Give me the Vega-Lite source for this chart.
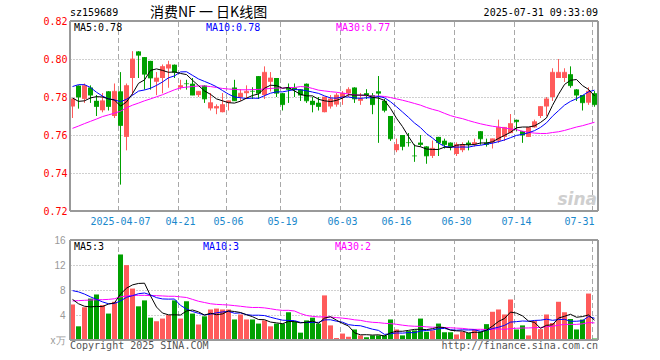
{
"$schema": "https://vega.github.io/schema/vega-lite/v6.json",
"width": 528, "height": 319,
"autosize": {"type": "none"},
"padding": {"left": 70, "top": 21, "right": 62, "bottom": 20},
"background": "#ffffff",
"config": {"view": {"stroke": null}},
"data": {"values": [
{"d":"2025-03-25","o":0.775,"c":0.779,"h":0.779,"l":0.769,"v":5.65,"m5":0.7795,"m10":0.7855,"m30":0.7635,"vm5":6.5,"vm10":7.9,"vm30":6.25},
{"d":"2025-03-26","o":0.786,"c":0.780,"h":0.786,"l":0.774,"v":2.15,"m5":0.7777,"m10":0.7865,"m30":0.7647,"vm5":5.8,"vm10":7.7,"vm30":6.3},
{"d":"2025-03-27","o":0.779,"c":0.786,"h":0.787,"l":0.777,"v":5.2,"m5":0.778,"m10":0.7865,"m30":0.766,"vm5":5.4,"vm10":7.35,"vm30":6.35},
{"d":"2025-03-28","o":0.785,"c":0.781,"h":0.786,"l":0.777,"v":6.6,"m5":0.7795,"m10":0.785,"m30":0.7672,"vm5":5.3,"vm10":6.9,"vm30":6.4},
{"d":"2025-03-31","o":0.778,"c":0.775,"h":0.781,"l":0.770,"v":7.25,"m5":0.7802,"m10":0.7825,"m30":0.7684,"vm5":5.37,"vm10":6.5,"vm30":6.45},
{"d":"2025-04-01","o":0.773,"c":0.778,"h":0.782,"l":0.772,"v":5.55,"m5":0.780,"m10":0.7805,"m30":0.7697,"vm5":5.35,"vm10":6.1,"vm30":6.45},
{"d":"2025-04-02","o":0.783,"c":0.775,"h":0.783,"l":0.773,"v":4.2,"m5":0.779,"m10":0.779,"m30":0.7706,"vm5":5.76,"vm10":5.8,"vm30":6.5},
{"d":"2025-04-03","o":0.770,"c":0.783,"h":0.787,"l":0.769,"v":6.1,"m5":0.7784,"m10":0.7785,"m30":0.7715,"vm5":5.94,"vm10":5.85,"vm30":6.6},
{"d":"2025-04-07","o":0.783,"c":0.765,"h":0.793,"l":0.734,"v":13.65,"m5":0.7752,"m10":0.7775,"m30":0.7725,"vm5":7.35,"vm10":6.25,"vm30":6.9},
{"d":"2025-04-08","o":0.759,"c":0.786,"h":0.787,"l":0.752,"v":11.95,"m5":0.7774,"m10":0.7788,"m30":0.7743,"vm5":8.29,"vm10":6.83,"vm30":7.05},
{"d":"2025-04-09","o":0.790,"c":0.800,"h":0.804,"l":0.781,"v":8.2,"m5":0.7818,"m10":0.7809,"m30":0.7757,"vm5":8.82,"vm10":7.09,"vm30":7.15},
{"d":"2025-04-10","o":0.804,"c":0.802,"h":0.804,"l":0.790,"v":5.35,"m5":0.7872,"m10":0.7831,"m30":0.7768,"vm5":9.05,"vm10":7.41,"vm30":7.15},
{"d":"2025-04-11","o":0.801,"c":0.792,"h":0.801,"l":0.784,"v":6.3,"m5":0.789,"m10":0.7837,"m30":0.778,"vm5":9.09,"vm10":7.52,"vm30":7.15},
{"d":"2025-04-14","o":0.799,"c":0.790,"h":0.799,"l":0.784,"v":3.55,"m5":0.794,"m10":0.7846,"m30":0.779,"vm5":7.07,"vm10":7.21,"vm30":7.1},
{"d":"2025-04-15","o":0.788,"c":0.790,"h":0.793,"l":0.781,"v":2.95,"m5":0.7948,"m10":0.7861,"m30":0.7801,"vm5":5.27,"vm10":6.78,"vm30":7.1},
{"d":"2025-04-16","o":0.790,"c":0.796,"h":0.797,"l":0.782,"v":3.4,"m5":0.794,"m10":0.7879,"m30":0.7812,"vm5":4.31,"vm10":6.57,"vm30":7.05},
{"d":"2025-04-17","o":0.795,"c":0.797,"h":0.799,"l":0.785,"v":3.95,"m5":0.793,"m10":0.7901,"m30":0.7825,"vm5":4.03,"vm10":6.54,"vm30":7.0},
{"d":"2025-04-18","o":0.797,"c":0.793,"h":0.797,"l":0.790,"v":6.3,"m5":0.7932,"m10":0.7911,"m30":0.7838,"vm5":4.03,"vm10":6.56,"vm30":7.0},
{"d":"2025-04-21","o":0.785,"c":0.786,"h":0.789,"l":0.784,"v":3.4,"m5":0.7924,"m10":0.7932,"m30":0.7848,"vm5":4.0,"vm10":5.54,"vm30":6.9},
{"d":"2025-04-22","o":0.787,"c":0.787,"h":0.789,"l":0.784,"v":6.15,"m5":0.7918,"m10":0.7933,"m30":0.7852,"vm5":4.64,"vm10":4.96,"vm30":6.8},
{"d":"2025-04-23","o":0.787,"c":0.781,"h":0.790,"l":0.781,"v":4.2,"m5":0.7888,"m10":0.7914,"m30":0.7855,"vm5":4.8,"vm10":4.56,"vm30":6.5},
{"d":"2025-04-24","o":0.781,"c":0.783,"h":0.783,"l":0.780,"v":2.45,"m5":0.786,"m10":0.7895,"m30":0.7858,"vm5":4.5,"vm10":4.27,"vm30":6.2},
{"d":"2025-04-25","o":0.786,"c":0.779,"h":0.786,"l":0.777,"v":3.75,"m5":0.7832,"m10":0.7882,"m30":0.7858,"vm5":3.99,"vm10":4.01,"vm30":6.0},
{"d":"2025-04-28","o":0.774,"c":0.777,"h":0.782,"l":0.773,"v":4.85,"m5":0.7814,"m10":0.7869,"m30":0.7855,"vm5":4.28,"vm10":4.14,"vm30":5.8},
{"d":"2025-04-29","o":0.774,"c":0.775,"h":0.776,"l":0.771,"v":5.0,"m5":0.779,"m10":0.7854,"m30":0.785,"vm5":4.05,"vm10":4.35,"vm30":5.7},
{"d":"2025-04-30","o":0.772,"c":0.776,"h":0.782,"l":0.772,"v":4.85,"m5":0.778,"m10":0.7834,"m30":0.7845,"vm5":4.18,"vm10":4.49,"vm30":5.65},
{"d":"2025-05-06","o":0.777,"c":0.778,"h":0.778,"l":0.773,"v":4.85,"m5":0.777,"m10":0.7815,"m30":0.7842,"vm5":4.66,"vm10":4.58,"vm30":5.6},
{"d":"2025-05-07","o":0.785,"c":0.778,"h":0.789,"l":0.778,"v":3.25,"m5":0.7768,"m10":0.780,"m30":0.784,"vm5":4.56,"vm10":4.28,"vm30":5.5},
{"d":"2025-05-08","o":0.780,"c":0.782,"h":0.784,"l":0.778,"v":4.05,"m5":0.7778,"m10":0.7796,"m30":0.7838,"vm5":4.4,"vm10":4.34,"vm30":5.4},
{"d":"2025-05-09","o":0.782,"c":0.783,"h":0.786,"l":0.779,"v":3.25,"m5":0.7794,"m10":0.7792,"m30":0.7838,"vm5":4.05,"vm10":4.05,"vm30":5.28},
{"d":"2025-05-12","o":0.783,"c":0.783,"h":0.785,"l":0.779,"v":3.25,"m5":0.7808,"m10":0.7794,"m30":0.7839,"vm5":3.73,"vm10":3.96,"vm30":5.2},
{"d":"2025-05-13","o":0.791,"c":0.782,"h":0.791,"l":0.779,"v":2.6,"m5":0.7816,"m10":0.7793,"m30":0.784,"vm5":3.28,"vm10":3.97,"vm30":5.21},
{"d":"2025-05-14","o":0.781,"c":0.793,"h":0.796,"l":0.779,"v":3.1,"m5":0.7846,"m10":0.7807,"m30":0.7842,"vm5":3.25,"vm10":3.91,"vm30":5.14},
{"d":"2025-05-15","o":0.788,"c":0.790,"h":0.793,"l":0.783,"v":2.15,"m5":0.7862,"m10":0.782,"m30":0.7845,"vm5":2.87,"vm10":3.64,"vm30":5.0},
{"d":"2025-05-16","o":0.790,"c":0.782,"h":0.790,"l":0.780,"v":2.6,"m5":0.786,"m10":0.7827,"m30":0.7847,"vm5":2.74,"vm10":3.4,"vm30":4.84},
{"d":"2025-05-19","o":0.782,"c":0.776,"h":0.782,"l":0.773,"v":2.6,"m5":0.7846,"m10":0.7827,"m30":0.7847,"vm5":2.61,"vm10":3.17,"vm30":4.74},
{"d":"2025-05-20","o":0.785,"c":0.784,"h":0.787,"l":0.777,"v":4.4,"m5":0.785,"m10":0.7833,"m30":0.785,"vm5":2.97,"vm10":3.13,"vm30":4.75},
{"d":"2025-05-21","o":0.785,"c":0.784,"h":0.787,"l":0.780,"v":2.95,"m5":0.7832,"m10":0.7839,"m30":0.785,"vm5":2.94,"vm10":3.1,"vm30":4.64},
{"d":"2025-05-22","o":0.784,"c":0.781,"h":0.784,"l":0.778,"v":1.15,"m5":0.7814,"m10":0.7838,"m30":0.7855,"vm5":2.74,"vm10":2.81,"vm30":4.23},
{"d":"2025-05-23","o":0.787,"c":0.778,"h":0.787,"l":0.777,"v":3.1,"m5":0.7806,"m10":0.7833,"m30":0.7853,"vm5":2.84,"vm10":2.79,"vm30":3.93},
{"d":"2025-05-26","o":0.778,"c":0.776,"h":0.780,"l":0.772,"v":3.55,"m5":0.7806,"m10":0.7826,"m30":0.7845,"vm5":3.03,"vm10":2.82,"vm30":3.78},
{"d":"2025-05-27","o":0.777,"c":0.775,"h":0.780,"l":0.773,"v":2.6,"m5":0.7788,"m10":0.7819,"m30":0.7836,"vm5":2.67,"vm10":2.82,"vm30":3.69},
{"d":"2025-05-28","o":0.772,"c":0.780,"h":0.780,"l":0.772,"v":7.1,"m5":0.778,"m10":0.7806,"m30":0.7832,"vm5":3.5,"vm10":3.22,"vm30":3.71},
{"d":"2025-05-29","o":0.775,"c":0.779,"h":0.781,"l":0.774,"v":2.3,"m5":0.7776,"m10":0.7795,"m30":0.7828,"vm5":3.73,"vm10":3.24,"vm30":3.67},
{"d":"2025-05-30","o":0.776,"c":0.781,"h":0.782,"l":0.775,"v":0.3,"m5":0.7782,"m10":0.7794,"m30":0.7825,"vm5":3.17,"vm10":3.01,"vm30":3.58},
{"d":"2025-06-03","o":0.780,"c":0.782,"h":0.783,"l":0.776,"v":1.0,"m5":0.7794,"m10":0.780,"m30":0.782,"vm5":2.66,"vm10":2.85,"vm30":3.5},
{"d":"2025-06-04","o":0.782,"c":0.784,"h":0.785,"l":0.780,"v":0.5,"m5":0.7812,"m10":0.780,"m30":0.7816,"vm5":2.24,"vm10":2.46,"vm30":3.39},
{"d":"2025-06-05","o":0.785,"c":0.779,"h":0.785,"l":0.777,"v":1.65,"m5":0.781,"m10":0.7795,"m30":0.7811,"vm5":1.15,"vm10":2.33,"vm30":3.23},
{"d":"2025-06-06","o":0.778,"c":0.779,"h":0.782,"l":0.776,"v":0.7,"m5":0.781,"m10":0.7793,"m30":0.7809,"vm5":0.83,"vm10":2.28,"vm30":3.14},
{"d":"2025-06-09","o":0.782,"c":0.781,"h":0.784,"l":0.779,"v":0.4,"m5":0.781,"m10":0.7796,"m30":0.7807,"vm5":0.85,"vm10":2.01,"vm30":2.95},
{"d":"2025-06-10","o":0.781,"c":0.776,"h":0.782,"l":0.771,"v":0.7,"m5":0.7798,"m10":0.7796,"m30":0.7805,"vm5":0.79,"vm10":1.73,"vm30":2.83},
{"d":"2025-06-11","o":0.783,"c":0.782,"h":0.791,"l":0.756,"v":0.7,"m5":0.7794,"m10":0.7803,"m30":0.7805,"vm5":0.83,"vm10":1.54,"vm30":2.78},
{"d":"2025-06-12","o":0.778,"c":0.773,"h":0.779,"l":0.772,"v":0.7,"m5":0.7782,"m10":0.7796,"m30":0.7803,"vm5":0.64,"vm10":0.9,"vm30":2.67},
{"d":"2025-06-13","o":0.770,"c":0.758,"h":0.770,"l":0.757,"v":3.25,"m5":0.774,"m10":0.7775,"m30":0.7797,"vm5":1.15,"vm10":0.99,"vm30":2.62},
{"d":"2025-06-16","o":0.752,"c":0.755,"h":0.758,"l":0.751,"v":1.65,"m5":0.7688,"m10":0.7749,"m30":0.779,"vm5":1.4,"vm10":1.13,"vm30":2.51},
{"d":"2025-06-17","o":0.760,"c":0.754,"h":0.760,"l":0.752,"v":0.7,"m5":0.7644,"m10":0.7721,"m30":0.7783,"vm5":1.4,"vm10":1.1,"vm30":2.37},
{"d":"2025-06-18","o":0.756,"c":0.756,"h":0.761,"l":0.754,"v":1.4,"m5":0.7592,"m10":0.7693,"m30":0.7775,"vm5":1.54,"vm10":1.19,"vm30":2.26},
{"d":"2025-06-19","o":0.749,"c":0.749,"h":0.755,"l":0.746,"v":1.5,"m5":0.7544,"m10":0.7663,"m30":0.7766,"vm5":1.7,"vm10":1.17,"vm30":2.2},
{"d":"2025-06-20","o":0.756,"c":0.755,"h":0.760,"l":0.754,"v":3.4,"m5":0.7538,"m10":0.7639,"m30":0.7757,"vm5":1.73,"vm10":1.44,"vm30":2.18},
{"d":"2025-06-23","o":0.754,"c":0.749,"h":0.754,"l":0.745,"v":1.3,"m5":0.7526,"m10":0.7607,"m30":0.7745,"vm5":1.66,"vm10":1.53,"vm30":2.11},
{"d":"2025-06-24","o":0.749,"c":0.753,"h":0.757,"l":0.748,"v":1.5,"m5":0.7524,"m10":0.7584,"m30":0.7735,"vm5":1.82,"vm10":1.61,"vm30":2.05},
{"d":"2025-06-25","o":0.759,"c":0.756,"h":0.759,"l":0.749,"v":2.6,"m5":0.7524,"m10":0.7558,"m30":0.7727,"vm5":2.06,"vm10":1.8,"vm30":2.05},
{"d":"2025-06-26","o":0.757,"c":0.755,"h":0.758,"l":0.753,"v":1.2,"m5":0.7536,"m10":0.754,"m30":0.7714,"vm5":2.0,"vm10":1.85,"vm30":1.99},
{"d":"2025-06-27","o":0.756,"c":0.754,"h":0.756,"l":0.752,"v":1.2,"m5":0.7534,"m10":0.7536,"m30":0.7702,"vm5":1.56,"vm10":1.65,"vm30":1.96},
{"d":"2025-06-30","o":0.750,"c":0.755,"h":0.756,"l":0.749,"v":0.85,"m5":0.7546,"m10":0.7536,"m30":0.7693,"vm5":1.47,"vm10":1.57,"vm30":1.9},
{"d":"2025-07-01","o":0.752,"c":0.755,"h":0.756,"l":0.751,"v":1.3,"m5":0.755,"m10":0.7537,"m30":0.7686,"vm5":1.43,"vm10":1.63,"vm30":1.86},
{"d":"2025-07-02","o":0.756,"c":0.755,"h":0.757,"l":0.752,"v":1.1,"m5":0.7548,"m10":0.7536,"m30":0.7676,"vm5":1.13,"vm10":1.6,"vm30":1.75},
{"d":"2025-07-03","o":0.755,"c":0.756,"h":0.758,"l":0.754,"v":1.7,"m5":0.755,"m10":0.7543,"m30":0.7667,"vm5":1.23,"vm10":1.62,"vm30":1.7},
{"d":"2025-07-04","o":0.762,"c":0.758,"h":0.762,"l":0.755,"v":1.3,"m5":0.7558,"m10":0.7546,"m30":0.7659,"vm5":1.25,"vm10":1.41,"vm30":1.71},
{"d":"2025-07-07","o":0.756,"c":0.755,"h":0.758,"l":0.754,"v":2.5,"m5":0.7558,"m10":0.7552,"m30":0.7652,"vm5":1.58,"vm10":1.53,"vm30":1.69},
{"d":"2025-07-08","o":0.756,"c":0.758,"h":0.758,"l":0.753,"v":4.5,"m5":0.7564,"m10":0.7557,"m30":0.7646,"vm5":2.22,"vm10":1.83,"vm30":1.72},
{"d":"2025-07-09","o":0.757,"c":0.764,"h":0.768,"l":0.756,"v":4.85,"m5":0.7582,"m10":0.7565,"m30":0.7642,"vm5":2.97,"vm10":2.05,"vm30":1.8},
{"d":"2025-07-10","o":0.759,"c":0.764,"h":0.764,"l":0.757,"v":4.05,"m5":0.7598,"m10":0.7574,"m30":0.7637,"vm5":3.44,"vm10":2.34,"vm30":1.69},
{"d":"2025-07-11","o":0.761,"c":0.766,"h":0.771,"l":0.761,"v":6.45,"m5":0.7614,"m10":0.7586,"m30":0.7632,"vm5":4.47,"vm10":2.86,"vm30":1.83},
{"d":"2025-07-14","o":0.768,"c":0.767,"h":0.768,"l":0.762,"v":1.65,"m5":0.7638,"m10":0.7598,"m30":0.7628,"vm5":4.3,"vm10":2.94,"vm30":1.88},
{"d":"2025-07-15","o":0.762,"c":0.760,"h":0.762,"l":0.756,"v":2.3,"m5":0.7642,"m10":0.7603,"m30":0.762,"vm5":3.86,"vm10":3.04,"vm30":1.92},
{"d":"2025-07-16","o":0.759,"c":0.764,"h":0.764,"l":0.759,"v":0.7,"m5":0.7642,"m10":0.7612,"m30":0.7614,"vm5":3.03,"vm10":3.0,"vm30":1.93},
{"d":"2025-07-17","o":0.764,"c":0.767,"h":0.768,"l":0.764,"v":3.0,"m5":0.7648,"m10":0.7623,"m30":0.761,"vm5":2.82,"vm10":3.13,"vm30":1.97},
{"d":"2025-07-18","o":0.770,"c":0.775,"h":0.775,"l":0.769,"v":1.7,"m5":0.7666,"m10":0.764,"m30":0.7608,"vm5":1.87,"vm10":3.17,"vm30":2.0},
{"d":"2025-07-21","o":0.775,"c":0.779,"h":0.780,"l":0.770,"v":4.05,"m5":0.769,"m10":0.7664,"m30":0.7608,"vm5":2.35,"vm10":3.33,"vm30":2.13},
{"d":"2025-07-22","o":0.780,"c":0.793,"h":0.795,"l":0.778,"v":2.7,"m5":0.7756,"m10":0.7699,"m30":0.7613,"vm5":2.43,"vm10":3.15,"vm30":2.19},
{"d":"2025-07-23","o":0.790,"c":0.793,"h":0.800,"l":0.790,"v":6.1,"m5":0.7814,"m10":0.7728,"m30":0.7617,"vm5":3.51,"vm10":3.27,"vm30":2.37},
{"d":"2025-07-24","o":0.790,"c":0.793,"h":0.795,"l":0.788,"v":4.4,"m5":0.7866,"m10":0.7757,"m30":0.7624,"vm5":3.79,"vm10":3.31,"vm30":2.5},
{"d":"2025-07-25","o":0.792,"c":0.786,"h":0.796,"l":0.785,"v":3.35,"m5":0.7888,"m10":0.7777,"m30":0.7633,"vm5":4.12,"vm10":3.0,"vm30":2.5},
{"d":"2025-07-28","o":0.784,"c":0.781,"h":0.784,"l":0.778,"v":1.65,"m5":0.7892,"m10":0.7791,"m30":0.7642,"vm5":3.64,"vm10":3.0,"vm30":2.5},
{"d":"2025-07-29","o":0.781,"c":0.777,"h":0.781,"l":0.773,"v":3.25,"m5":0.786,"m10":0.7808,"m30":0.7649,"vm5":3.75,"vm10":3.09,"vm30":2.59},
{"d":"2025-07-30","o":0.777,"c":0.783,"h":0.785,"l":0.776,"v":7.4,"m5":0.784,"m10":0.7827,"m30":0.7658,"vm5":4.01,"vm10":3.76,"vm30":2.79},
{"d":"2025-07-31","o":0.782,"c":0.776,"h":0.783,"l":0.775,"v":0.2,"m5":0.7806,"m10":0.7836,"m30":0.7667,"vm5":3.17,"vm10":3.48,"vm30":2.74}
]},
"resolve": {"scale": {"y": "independent"}, "axis": {"y": "independent"}},
"layer": [
{
"layer": [
{"mark": {"type": "rule", "strokeWidth": 1},
 "encoding": {
  "x": {"field": "d", "type": "ordinal",
   "scale": {"type": "band", "paddingInner": 0.1667, "paddingOuter": 0.0833, "align": 0},
   "axis": {"orient": "bottom", "offset": -129, "title": null, "ticks": false, "domain": false, "grid": false,
    "values": ["2025-04-07","2025-04-21","2025-05-06","2025-05-19","2025-06-03","2025-06-16","2025-06-30","2025-07-14","2025-07-31"],
    "labelExpr": "datum.value == '2025-04-07' ? datum.value : slice(datum.value, 5)",
    "labelAngle": 0, "labelColor": "#1a88cc", "labelFont": "DejaVu Sans Mono", "labelFontSize": 10, "labelPadding": 5,
    "labelOverlap": false, "labelBound": false, "labelFlush": false, "bandPosition": 0.1,
    "labelAlign": {"condition": {"test": "datum.value == '2025-07-31'", "value": "right"}, "value": "center"}}},
  "y": {"field": "l", "type": "quantitative",
   "scale": {"domain": [0.72, 0.82], "range": [190, 0], "nice": false, "zero": false},
   "axis": {"orient": "left", "title": null, "values": [0.72, 0.74, 0.76, 0.78, 0.8, 0.82], "format": ".2f",
    "ticks": false, "domain": false, "grid": true, "gridColor": "#a0a0a0", "gridDash": [1, 2], "gridWidth": 1,
    "labelColor": "#ff0000", "labelFont": "DejaVu Sans Mono", "labelFontSize": 10, "labelPadding": 3,
    "labelFlush": false, "labelOverlap": false, "labelBound": false}},
  "y2": {"field": "h"},
  "color": {"condition": {"test": "datum.c > datum.o", "value": "#ff5b5b"}, "value": "#00a000"}}},
{"transform": [{"filter": {"field": "d", "oneOf": ["2025-04-07","2025-04-21","2025-05-06","2025-05-19","2025-06-03","2025-06-16","2025-06-30","2025-07-14","2025-07-31"]}}],
 "mark": {"type": "rule", "color": "#a8a8a8", "strokeDash": [5, 3], "strokeWidth": 1},
 "encoding": {"x": {"field": "d", "type": "ordinal", "bandPosition": 0.1},
  "y": {"datum": 0.72, "type": "quantitative"}, "y2": {"datum": 0.82}}},
{"mark": {"type": "rule", "strokeWidth": 1},
 "encoding": {"x": {"field": "d", "type": "ordinal"},
  "y": {"field": "l", "type": "quantitative"}, "y2": {"field": "h"},
  "color": {"condition": {"test": "datum.c > datum.o", "value": "#ff5b5b"}, "value": "#00a000"}}},
{"mark": {"type": "bar"},
 "encoding": {"x": {"field": "d", "type": "ordinal"},
  "y": {"field": "o", "type": "quantitative"}, "y2": {"field": "c"},
  "color": {"condition": {"test": "datum.c > datum.o", "value": "#ff5b5b"}, "value": "#00a000"}}},
{"mark": {"type": "tick", "thickness": 1, "size": 5},
 "encoding": {"x": {"field": "d", "type": "ordinal"},
  "y": {"field": "c", "type": "quantitative"},
  "color": {"condition": {"test": "datum.c > datum.o", "value": "#ff5b5b"}, "value": "#00a000"}}},
{"mark": {"type": "line", "color": "#ff00ff", "strokeWidth": 1},
 "encoding": {"x": {"field": "d", "type": "ordinal"}, "y": {"field": "m30", "type": "quantitative"}}},
{"mark": {"type": "line", "color": "#0000ff", "strokeWidth": 1},
 "encoding": {"x": {"field": "d", "type": "ordinal"}, "y": {"field": "m10", "type": "quantitative"}}},
{"mark": {"type": "line", "color": "#000000", "strokeWidth": 1},
 "encoding": {"x": {"field": "d", "type": "ordinal"}, "y": {"field": "m5", "type": "quantitative"}}},
{"mark": {"type": "rule", "color": "#999999", "strokeWidth": 2},
 "encoding": {"y": {"datum": 0.82, "type": "quantitative"}}},
{"mark": {"type": "rule", "color": "#999999", "strokeWidth": 2},
 "encoding": {"y": {"datum": 0.72, "type": "quantitative"}}},
{"transform": [{"filter": "datum.d == '2025-03-25'"}],
 "mark": {"type": "rule", "color": "#999999", "strokeWidth": 2},
 "encoding": {"x": {"field": "d", "type": "ordinal", "bandPosition": 0},
  "y": {"datum": 0.72, "type": "quantitative"}, "y2": {"datum": 0.82}}},
{"transform": [{"filter": "datum.d == '2025-07-31'"}],
 "mark": {"type": "rule", "color": "#999999", "strokeWidth": 2},
 "encoding": {"x": {"field": "d", "type": "ordinal", "bandPosition": 1.2},
  "y": {"datum": 0.72, "type": "quantitative"}, "y2": {"datum": 0.82}}},
{"transform": [{"filter": "datum.d == '2025-07-31'"}],
 "mark": {"type": "text", "text": "sina", "align": "right", "baseline": "middle", "dx": -1, "font": "DejaVu Sans", "fontSize": 17, "fontStyle": "italic", "fontWeight": "bold", "color": "#cfcfcf"},
 "encoding": {"x": {"field": "d", "type": "ordinal", "bandPosition": 1.2},
  "y": {"datum": 0.7258, "type": "quantitative"}}},
{"transform": [{"filter": "datum.d == '2025-03-25'"}],
 "mark": {"type": "text", "text": "MA5:0.78", "align": "left", "baseline": "top", "dx": 4, "dy": 2, "font": "DejaVu Sans Mono", "fontSize": 10, "color": "#000000"},
 "encoding": {"x": {"field": "d", "type": "ordinal", "bandPosition": 0},
  "y": {"datum": 0.82, "type": "quantitative"}}},
{"transform": [{"filter": "datum.d == '2025-04-25'"}],
 "mark": {"type": "text", "text": "MA10:0.78", "align": "left", "baseline": "top", "dx": 4, "dy": 2, "font": "DejaVu Sans Mono", "fontSize": 10, "color": "#0000ff"},
 "encoding": {"x": {"field": "d", "type": "ordinal", "bandPosition": 0},
  "y": {"datum": 0.82, "type": "quantitative"}}},
{"transform": [{"filter": "datum.d == '2025-05-30'"}],
 "mark": {"type": "text", "text": "MA30:0.77", "align": "left", "baseline": "top", "dx": 2, "dy": 2, "font": "DejaVu Sans Mono", "fontSize": 10, "color": "#ff00ff"},
 "encoding": {"x": {"field": "d", "type": "ordinal", "bandPosition": 0},
  "y": {"datum": 0.82, "type": "quantitative"}}},
{"transform": [{"filter": "datum.d == '2025-03-25'"}],
 "mark": {"type": "text", "text": "sz159689", "align": "left", "baseline": "middle", "font": "DejaVu Sans Mono", "fontSize": 10, "color": "#000000"},
 "encoding": {"x": {"field": "d", "type": "ordinal", "bandPosition": 0},
  "y": {"datum": 0.8242, "type": "quantitative"}}},
{"transform": [{"filter": "datum.d == '2025-04-14'"}],
 "mark": {"type": "text", "text": "消费NF 一 日K线图", "align": "left", "baseline": "middle", "dx": 2, "font": "Noto Sans CJK SC", "fontSize": 14, "color": "#000000"},
 "encoding": {"x": {"field": "d", "type": "ordinal", "bandPosition": 0},
  "y": {"datum": 0.8242, "type": "quantitative"}}},
{"transform": [{"filter": "datum.d == '2025-07-31'"}],
 "mark": {"type": "text", "text": "2025-07-31 09:33:09", "align": "right", "baseline": "middle", "font": "DejaVu Sans Mono", "fontSize": 10, "color": "#000000"},
 "encoding": {"x": {"field": "d", "type": "ordinal", "bandPosition": 1.2},
  "y": {"datum": 0.8242, "type": "quantitative"}}}
]
},
{
"layer": [
{"mark": {"type": "bar"},
 "encoding": {"x": {"field": "d", "type": "ordinal"},
  "y": {"field": "v", "type": "quantitative",
   "scale": {"domain": [0, 16], "range": [319, 219], "nice": false},
   "axis": {"orient": "left", "title": null, "values": [0, 4, 8, 12, 16],
    "labelExpr": "datum.value == 0 ? 'x万' : datum.label",
    "ticks": false, "domain": false, "grid": true, "gridColor": "#a0a0a0", "gridDash": [1, 2], "gridWidth": 1,
    "labelColor": "#999999", "labelFont": "Liberation Sans", "labelFontSize": 10, "labelPadding": 5,
    "labelFlush": false, "labelOverlap": false, "labelBound": false}},
  "color": {"condition": {"test": "datum.c > datum.o", "value": "#ff5b5b"}, "value": "#00a000"}}},
{"transform": [{"filter": {"field": "d", "oneOf": ["2025-04-07","2025-04-21","2025-05-06","2025-05-19","2025-06-03","2025-06-16","2025-06-30","2025-07-14","2025-07-31"]}}],
 "mark": {"type": "rule", "color": "#a8a8a8", "strokeDash": [5, 3], "strokeWidth": 1},
 "encoding": {"x": {"field": "d", "type": "ordinal", "bandPosition": 0.1},
  "y": {"datum": 0, "type": "quantitative"}, "y2": {"datum": 16}}},
{"mark": {"type": "bar"},
 "encoding": {"x": {"field": "d", "type": "ordinal"},
  "y": {"field": "v", "type": "quantitative"},
  "color": {"condition": {"test": "datum.c > datum.o", "value": "#ff5b5b"}, "value": "#00a000"}}},
{"mark": {"type": "line", "color": "#ff00ff", "strokeWidth": 1},
 "encoding": {"x": {"field": "d", "type": "ordinal"}, "y": {"field": "vm30", "type": "quantitative"}}},
{"mark": {"type": "line", "color": "#0000ff", "strokeWidth": 1},
 "encoding": {"x": {"field": "d", "type": "ordinal"}, "y": {"field": "vm10", "type": "quantitative"}}},
{"mark": {"type": "line", "color": "#000000", "strokeWidth": 1},
 "encoding": {"x": {"field": "d", "type": "ordinal"}, "y": {"field": "vm5", "type": "quantitative"}}},
{"mark": {"type": "rule", "color": "#999999", "strokeWidth": 2},
 "encoding": {"y": {"datum": 16, "type": "quantitative"}}},
{"mark": {"type": "rule", "color": "#999999", "strokeWidth": 2},
 "encoding": {"y": {"datum": 0, "type": "quantitative"}}},
{"transform": [{"filter": "datum.d == '2025-03-25'"}],
 "mark": {"type": "rule", "color": "#999999", "strokeWidth": 2},
 "encoding": {"x": {"field": "d", "type": "ordinal", "bandPosition": 0},
  "y": {"datum": 0, "type": "quantitative"}, "y2": {"datum": 16}}},
{"transform": [{"filter": "datum.d == '2025-07-31'"}],
 "mark": {"type": "rule", "color": "#999999", "strokeWidth": 2},
 "encoding": {"x": {"field": "d", "type": "ordinal", "bandPosition": 1.2},
  "y": {"datum": 0, "type": "quantitative"}, "y2": {"datum": 16}}},
{"transform": [{"filter": "datum.d == '2025-03-25'"}],
 "mark": {"type": "text", "text": "MA5:3", "align": "left", "baseline": "top", "dx": 4, "dy": 2, "font": "DejaVu Sans Mono", "fontSize": 10, "color": "#000000"},
 "encoding": {"x": {"field": "d", "type": "ordinal", "bandPosition": 0},
  "y": {"datum": 16, "type": "quantitative"}}},
{"transform": [{"filter": "datum.d == '2025-04-25'"}],
 "mark": {"type": "text", "text": "MA10:3", "align": "left", "baseline": "top", "dx": 1, "dy": 2, "font": "DejaVu Sans Mono", "fontSize": 10, "color": "#0000ff"},
 "encoding": {"x": {"field": "d", "type": "ordinal", "bandPosition": 0},
  "y": {"datum": 16, "type": "quantitative"}}},
{"transform": [{"filter": "datum.d == '2025-05-30'"}],
 "mark": {"type": "text", "text": "MA30:2", "align": "left", "baseline": "top", "dx": 1, "dy": 2, "font": "DejaVu Sans Mono", "fontSize": 10, "color": "#ff00ff"},
 "encoding": {"x": {"field": "d", "type": "ordinal", "bandPosition": 0},
  "y": {"datum": 16, "type": "quantitative"}}},
{"transform": [{"filter": "datum.d == '2025-03-25'"}],
 "mark": {"type": "text", "text": "Copyright 2025 SINA.COM", "align": "left", "baseline": "middle", "font": "DejaVu Sans Mono", "fontSize": 10, "color": "#555555"},
 "encoding": {"x": {"field": "d", "type": "ordinal", "bandPosition": 0},
  "y": {"datum": -1, "type": "quantitative"}}},
{"transform": [{"filter": "datum.d == '2025-07-31'"}],
 "mark": {"type": "text", "text": "http://finance.sina.com.cn", "align": "right", "baseline": "middle", "font": "DejaVu Sans Mono", "fontSize": 10, "color": "#555555"},
 "encoding": {"x": {"field": "d", "type": "ordinal", "bandPosition": 1.2},
  "y": {"datum": -1, "type": "quantitative"}}}
]
}
]
}
